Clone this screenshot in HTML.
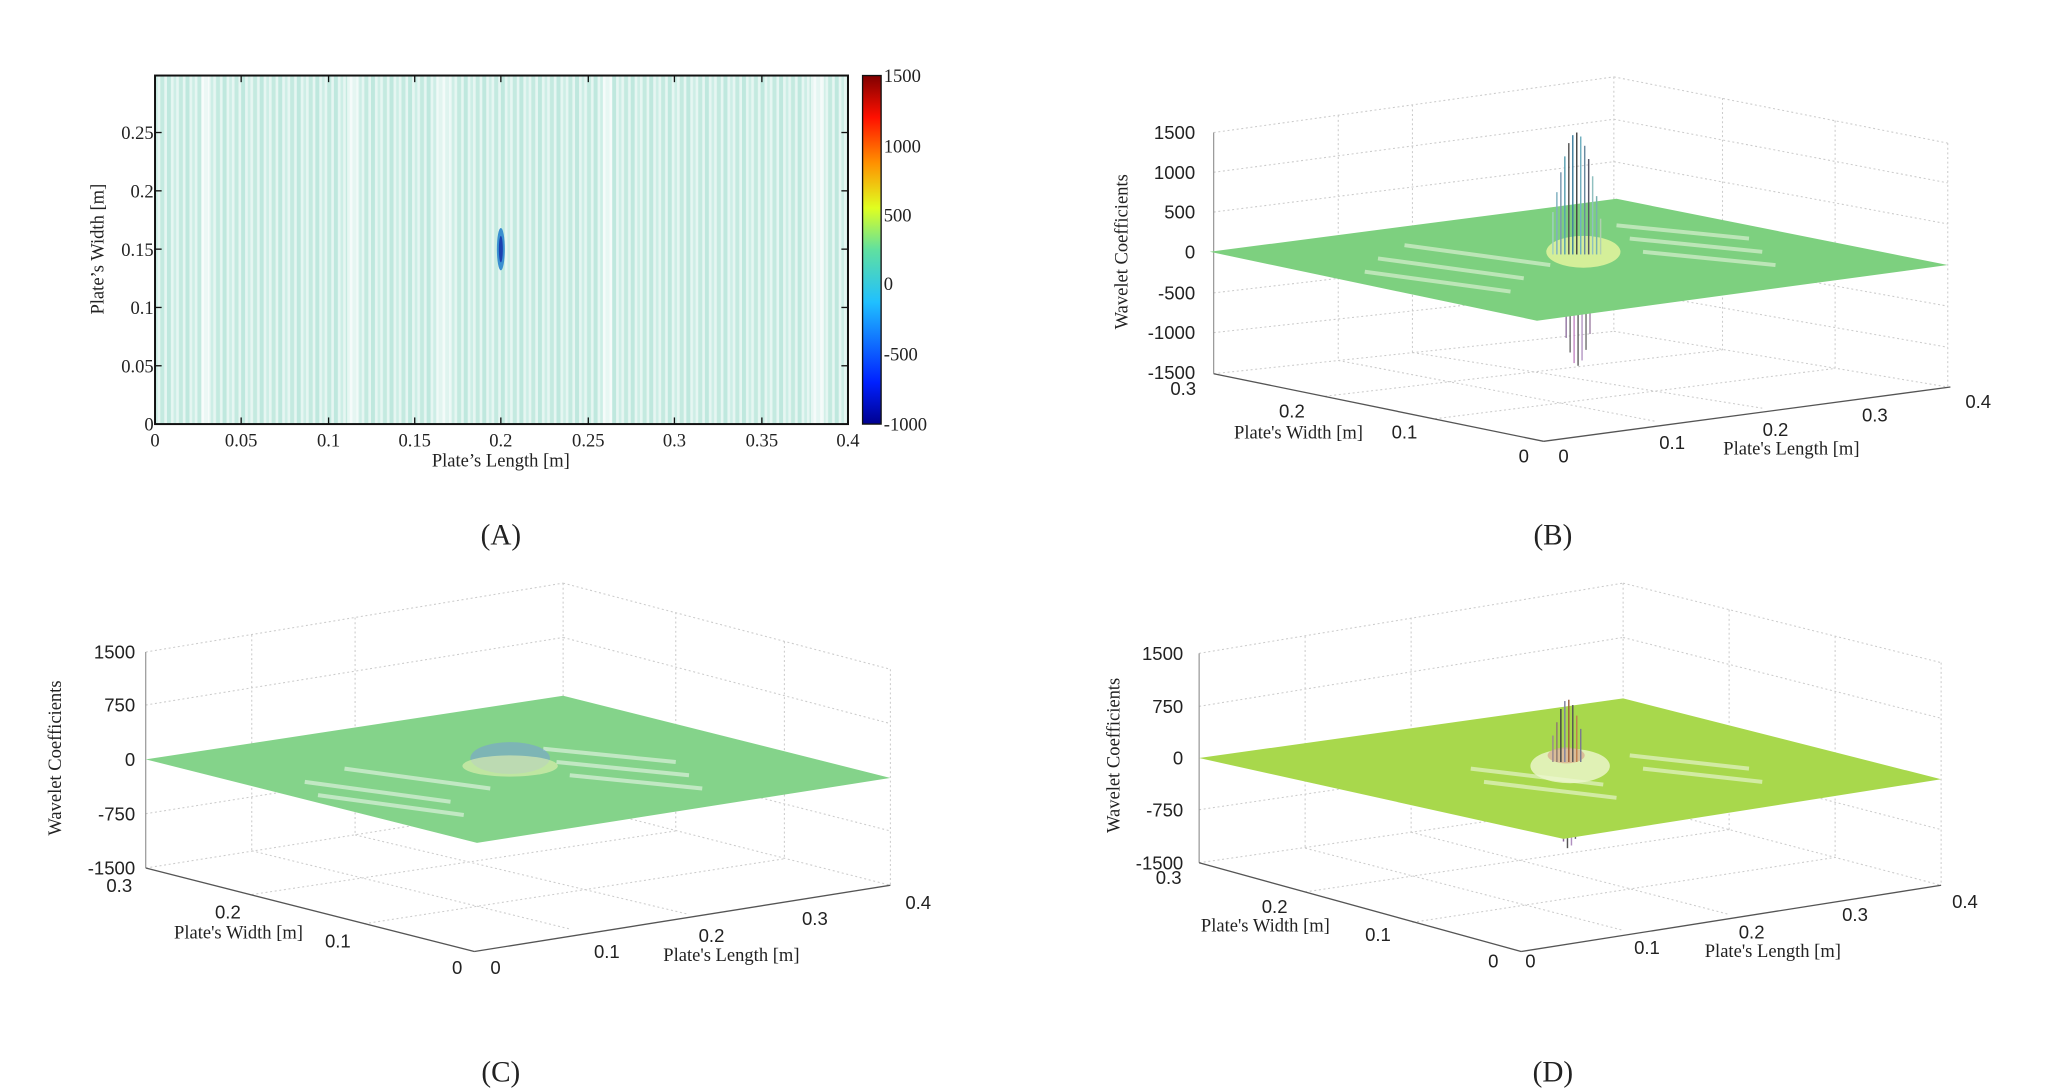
<!DOCTYPE html>
<html><head><meta charset="utf-8"><style>
html,body{margin:0;padding:0;background:#fff}
svg{display:block}
.s{font-family:"Liberation Serif",serif;font-size:14px;fill:#222}
.n{font-family:"Liberation Sans",sans-serif;font-size:14px;fill:#222}
.g{stroke:#ccc;stroke-width:0.8;stroke-dasharray:1.5 2;fill:none}
.cap{font-family:"Liberation Serif",serif;font-size:22px;fill:#222}
</style></head><body>
<svg width="2067" height="1092" viewBox="0 0 1560 824" preserveAspectRatio="none" xmlns="http://www.w3.org/2000/svg">
<defs>
<pattern id="st" width="14" height="8" patternUnits="userSpaceOnUse">
<rect width="14" height="8" fill="#e6f6f2"/>
<rect x="0" width="3" height="8" fill="#bfe8de"/>
<rect x="5" width="2" height="8" fill="#cdeee6"/>
<rect x="9" width="3" height="8" fill="#c4eae0"/>
</pattern>
<linearGradient id="cb" x1="0" y1="1" x2="0" y2="0">
<stop offset="0" stop-color="#00008f"/><stop offset="0.12" stop-color="#0020ff"/>
<stop offset="0.35" stop-color="#20c0ff"/><stop offset="0.5" stop-color="#60e0a0"/>
<stop offset="0.62" stop-color="#e0ff20"/><stop offset="0.75" stop-color="#ff9000"/>
<stop offset="0.88" stop-color="#ff1000"/><stop offset="1" stop-color="#800000"/>
</linearGradient>
</defs>

<!-- Panel A -->
<rect x="117" y="57" width="523" height="263" fill="url(#st)"/>
<rect x="152" y="57" width="6" height="263" fill="#fff" opacity="0.7"/>
<rect x="262" y="57" width="8" height="263" fill="#fff" opacity="0.6"/>
<rect x="330" y="57" width="10" height="263" fill="#fff" opacity="0.5"/>
<rect x="455" y="57" width="7" height="263" fill="#fff" opacity="0.6"/>
<rect x="612" y="57" width="10" height="263" fill="#fff" opacity="0.6"/>
<ellipse cx="378" cy="188" rx="3" ry="16" fill="#3a8fd0"/>
<ellipse cx="378" cy="188" rx="1.5" ry="10" fill="#1a40b0"/>
<rect x="117" y="57" width="523" height="263" fill="none" stroke="#111" stroke-width="1.5"/>
<g stroke="#111" stroke-width="1">
<line x1="182" y1="320" x2="182" y2="315"/><line x1="248" y1="320" x2="248" y2="315"/><line x1="313" y1="320" x2="313" y2="315"/><line x1="378" y1="320" x2="378" y2="315"/><line x1="444" y1="320" x2="444" y2="315"/><line x1="509" y1="320" x2="509" y2="315"/><line x1="575" y1="320" x2="575" y2="315"/>
<line x1="182" y1="57" x2="182" y2="62"/><line x1="248" y1="57" x2="248" y2="62"/><line x1="313" y1="57" x2="313" y2="62"/><line x1="378" y1="57" x2="378" y2="62"/><line x1="444" y1="57" x2="444" y2="62"/><line x1="509" y1="57" x2="509" y2="62"/><line x1="575" y1="57" x2="575" y2="62"/>
<line x1="117" y1="100" x2="122" y2="100"/><line x1="117" y1="144" x2="122" y2="144"/><line x1="117" y1="188" x2="122" y2="188"/><line x1="117" y1="232" x2="122" y2="232"/><line x1="117" y1="276" x2="122" y2="276"/>
<line x1="640" y1="100" x2="635" y2="100"/><line x1="640" y1="144" x2="635" y2="144"/><line x1="640" y1="188" x2="635" y2="188"/><line x1="640" y1="232" x2="635" y2="232"/><line x1="640" y1="276" x2="635" y2="276"/>
</g>
<g class="s" text-anchor="middle">
<text x="117" y="337">0</text><text x="182" y="337">0.05</text><text x="248" y="337">0.1</text><text x="313" y="337">0.15</text><text x="378" y="337">0.2</text><text x="444" y="337">0.25</text><text x="509" y="337">0.3</text><text x="575" y="337">0.35</text><text x="640" y="337">0.4</text>
<text x="378" y="352">Plate’s Length [m]</text>
</g>
<g class="s" text-anchor="end">
<text x="116" y="105">0.25</text><text x="116" y="149">0.2</text><text x="116" y="193">0.15</text><text x="116" y="237">0.1</text><text x="116" y="281">0.05</text><text x="116" y="325">0</text>
</g>
<text class="s" transform="translate(78,188) rotate(-90)" text-anchor="middle">Plate’s Width [m]</text>
<rect x="651" y="57" width="14" height="263" fill="url(#cb)" stroke="#111" stroke-width="1"/>
<g class="s">
<text x="667" y="62">1500</text><text x="667" y="115">1000</text><text x="667" y="167">500</text><text x="667" y="219">0</text><text x="667" y="272">-500</text><text x="667" y="325">-1000</text>
</g>
<text class="cap" x="378" y="411" text-anchor="middle">(A)</text>

<!-- Panel B -->
<g class="g">
<line x1="916" y1="100" x2="1218" y2="58"/><line x1="1218" y1="58" x2="1470" y2="108"/>
<line x1="916" y1="282" x2="1218" y2="250"/><line x1="1218" y1="250" x2="1470" y2="292"/>
<line x1="1218" y1="58" x2="1218" y2="250"/><line x1="1470" y1="108" x2="1470" y2="292"/>
<line x1="916" y1="130" x2="1218" y2="90"/><line x1="916" y1="160" x2="1218" y2="122"/><line x1="916" y1="221" x2="1218" y2="186"/><line x1="916" y1="251" x2="1218" y2="218"/>
<line x1="1218" y1="90" x2="1470" y2="138"/><line x1="1218" y1="122" x2="1470" y2="169"/><line x1="1218" y1="186" x2="1470" y2="231"/><line x1="1218" y1="218" x2="1470" y2="262"/>
<line x1="1066" y1="79" x2="1066" y2="266"/><line x1="1010" y1="87" x2="1010" y2="272"/><line x1="1300" y1="74" x2="1300" y2="264"/><line x1="1385" y1="91" x2="1385" y2="278"/>
<line x1="1000" y1="299" x2="1300" y2="264"/><line x1="1083" y1="316" x2="1385" y2="278"/><line x1="1010" y1="272" x2="1250" y2="318"/><line x1="1066" y1="266" x2="1330" y2="308"/>
</g>
<line x1="916" y1="100" x2="916" y2="282" stroke="#888" stroke-width="0.8"/>
<line x1="916" y1="282" x2="1165" y2="333" stroke="#555" stroke-width="1"/>
<line x1="1165" y1="333" x2="1472" y2="292" stroke="#555" stroke-width="1"/>
<g stroke-width="1">
<line x1="1182" y1="235" x2="1182" y2="255" stroke="#8a6a9a"/><line x1="1185" y1="235" x2="1185" y2="266" stroke="#666"/><line x1="1188" y1="235" x2="1188" y2="274" stroke="#c080c0"/><line x1="1191" y1="235" x2="1191" y2="276" stroke="#555"/><line x1="1194" y1="235" x2="1194" y2="272" stroke="#b090c0"/><line x1="1197" y1="235" x2="1197" y2="264" stroke="#666"/><line x1="1200" y1="235" x2="1200" y2="252" stroke="#9a7aa0"/>
</g>
<polygon points="913,190 1220,150 1470,200 1160,242" fill="#7dd07f"/>
<g stroke="#d8f0d0" stroke-width="3" opacity="0.7">
<line x1="1040" y1="195" x2="1150" y2="210"/><line x1="1030" y1="205" x2="1140" y2="220"/><line x1="1060" y1="185" x2="1170" y2="200"/><line x1="1230" y1="180" x2="1330" y2="190"/><line x1="1240" y1="190" x2="1340" y2="200"/><line x1="1220" y1="170" x2="1320" y2="180"/>
</g>
<ellipse cx="1195" cy="190" rx="28" ry="12" fill="#eaf6a0" opacity="0.8"/>
<g stroke-width="1.1">
<line x1="1172" y1="160" x2="1172" y2="192" stroke="#a0d0c0"/><line x1="1175" y1="145" x2="1175" y2="192" stroke="#80b0c0"/><line x1="1178" y1="130" x2="1178" y2="192" stroke="#7a9ab0"/><line x1="1181" y1="118" x2="1181" y2="192" stroke="#5aa0b0"/><line x1="1184" y1="108" x2="1184" y2="192" stroke="#555"/><line x1="1187" y1="102" x2="1187" y2="192" stroke="#4080a0"/><line x1="1190" y1="100" x2="1190" y2="192" stroke="#444"/><line x1="1193" y1="103" x2="1193" y2="192" stroke="#70b0c0"/><line x1="1196" y1="110" x2="1196" y2="192" stroke="#6a8aa0"/><line x1="1199" y1="120" x2="1199" y2="192" stroke="#556"/><line x1="1202" y1="133" x2="1202" y2="192" stroke="#90c0c0"/><line x1="1205" y1="148" x2="1205" y2="192" stroke="#7ab0b0"/><line x1="1208" y1="165" x2="1208" y2="192" stroke="#b0d0b0"/>
</g>
<g class="n" text-anchor="end">
<text x="902" y="105">1500</text><text x="902" y="135">1000</text><text x="902" y="165">500</text><text x="902" y="195">0</text><text x="902" y="226">-500</text><text x="902" y="256">-1000</text><text x="902" y="286">-1500</text>
</g>
<g class="n" text-anchor="middle">
<text x="893" y="298">0.3</text><text x="975" y="315">0.2</text><text x="1060" y="331">0.1</text><text x="1150" y="349">0</text><text x="1180" y="349">0</text><text x="1262" y="339">0.1</text><text x="1340" y="329">0.2</text><text x="1415" y="318">0.3</text><text x="1493" y="308">0.4</text>
</g>
<text class="s" x="980" y="331" text-anchor="middle">Plate's Width [m]</text>
<text class="s" x="1352" y="343" text-anchor="middle">Plate's Length [m]</text>
<text class="s" transform="translate(851,190) rotate(-90)" text-anchor="middle">Wavelet Coefficients</text>
<text class="cap" x="1172" y="411" text-anchor="middle">(B)</text>

<!-- Panel C -->
<g class="g">
<line x1="110" y1="492" x2="425" y2="440"/><line x1="425" y1="440" x2="672" y2="505"/>
<line x1="110" y1="655" x2="425" y2="605"/><line x1="425" y1="605" x2="672" y2="668"/>
<line x1="425" y1="440" x2="425" y2="605"/><line x1="672" y1="505" x2="672" y2="668"/>
<line x1="110" y1="532" x2="425" y2="481"/><line x1="110" y1="614" x2="425" y2="564"/>
<line x1="425" y1="481" x2="672" y2="546"/><line x1="425" y1="564" x2="672" y2="627"/>
<line x1="268" y1="466" x2="268" y2="630"/><line x1="190" y1="479" x2="190" y2="642"/><line x1="510" y1="462" x2="510" y2="627"/><line x1="592" y1="484" x2="592" y2="648"/>
<line x1="190" y1="675" x2="510" y2="627"/><line x1="275" y1="697" x2="592" y2="648"/><line x1="190" y1="642" x2="430" y2="701"/><line x1="268" y1="630" x2="520" y2="690"/>
</g>
<line x1="110" y1="492" x2="110" y2="655" stroke="#888" stroke-width="0.8"/>
<line x1="110" y1="655" x2="358" y2="718" stroke="#555" stroke-width="1"/>
<line x1="358" y1="718" x2="672" y2="668" stroke="#555" stroke-width="1"/>
<polygon points="110,573 425,525 672,587 360,636" fill="#84d38a"/>
<g stroke="#dcf2dc" stroke-width="3" opacity="0.7">
<line x1="230" y1="590" x2="340" y2="605"/><line x1="240" y1="600" x2="350" y2="615"/><line x1="260" y1="580" x2="370" y2="595"/><line x1="420" y1="575" x2="520" y2="585"/><line x1="430" y1="585" x2="530" y2="595"/><line x1="410" y1="565" x2="510" y2="575"/>
</g>
<ellipse cx="385" cy="572" rx="30" ry="12" fill="#7aa8c8" opacity="0.7"/>
<ellipse cx="385" cy="578" rx="36" ry="8" fill="#e6f4b0" opacity="0.6"/>
<g class="n" text-anchor="end">
<text x="102" y="497">1500</text><text x="102" y="537">750</text><text x="102" y="578">0</text><text x="102" y="619">-750</text><text x="102" y="660">-1500</text>
</g>
<g class="n" text-anchor="middle">
<text x="90" y="673">0.3</text><text x="172" y="693">0.2</text><text x="255" y="715">0.1</text><text x="345" y="735">0</text><text x="374" y="735">0</text><text x="458" y="723">0.1</text><text x="537" y="711">0.2</text><text x="615" y="698">0.3</text><text x="693" y="686">0.4</text>
</g>
<text class="s" x="180" y="708" text-anchor="middle">Plate's Width [m]</text>
<text class="s" x="552" y="725" text-anchor="middle">Plate's Length [m]</text>
<text class="s" transform="translate(46,572) rotate(-90)" text-anchor="middle">Wavelet Coefficients</text>
<text class="cap" x="378" y="816" text-anchor="middle">(C)</text>

<!-- Panel D -->
<g class="g">
<line x1="905" y1="493" x2="1225" y2="440"/><line x1="1225" y1="440" x2="1465" y2="500"/>
<line x1="905" y1="651" x2="1225" y2="605"/><line x1="1225" y1="605" x2="1465" y2="668"/>
<line x1="1225" y1="440" x2="1225" y2="605"/><line x1="1465" y1="500" x2="1465" y2="668"/>
<line x1="905" y1="533" x2="1225" y2="481"/><line x1="905" y1="611" x2="1225" y2="564"/>
<line x1="1225" y1="481" x2="1465" y2="542"/><line x1="1225" y1="564" x2="1465" y2="626"/>
<line x1="1065" y1="466" x2="1065" y2="628"/><line x1="985" y1="480" x2="985" y2="640"/><line x1="1305" y1="460" x2="1305" y2="626"/><line x1="1385" y1="480" x2="1385" y2="647"/>
<line x1="985" y1="673" x2="1305" y2="626"/><line x1="1066" y1="696" x2="1385" y2="647"/><line x1="985" y1="640" x2="1225" y2="702"/><line x1="1065" y1="628" x2="1305" y2="690"/>
</g>
<line x1="905" y1="493" x2="905" y2="651" stroke="#888" stroke-width="0.8"/>
<line x1="905" y1="651" x2="1148" y2="718" stroke="#555" stroke-width="1"/>
<line x1="1148" y1="718" x2="1465" y2="668" stroke="#555" stroke-width="1"/>
<g stroke-width="1.1"><line x1="1180" y1="620" x2="1180" y2="635" stroke="#8a6a9a"/><line x1="1183" y1="620" x2="1183" y2="640" stroke="#555"/><line x1="1186" y1="620" x2="1186" y2="638" stroke="#b090c0"/><line x1="1189" y1="620" x2="1189" y2="633" stroke="#666"/></g>
<polygon points="905,572 1225,527 1465,588 1180,633" fill="#a8d84c"/>
<g stroke="#e4f4c8" stroke-width="3" opacity="0.7">
<line x1="1110" y1="580" x2="1210" y2="592"/><line x1="1120" y1="590" x2="1220" y2="602"/><line x1="1230" y1="570" x2="1320" y2="580"/><line x1="1240" y1="580" x2="1330" y2="590"/>
</g>
<ellipse cx="1185" cy="578" rx="30" ry="13" fill="#eef8d0" opacity="0.8"/>
<ellipse cx="1182" cy="570" rx="14" ry="6" fill="#d8b090" opacity="0.8"/>
<g stroke-width="1.1">
<line x1="1172" y1="555" x2="1172" y2="575" stroke="#9a8a90"/><line x1="1175" y1="545" x2="1175" y2="575" stroke="#907a70"/><line x1="1178" y1="535" x2="1178" y2="575" stroke="#444"/><line x1="1181" y1="529" x2="1181" y2="575" stroke="#8080a0"/><line x1="1184" y1="528" x2="1184" y2="575" stroke="#a06040"/><line x1="1187" y1="532" x2="1187" y2="575" stroke="#555"/><line x1="1190" y1="540" x2="1190" y2="575" stroke="#c08050"/><line x1="1193" y1="550" x2="1193" y2="575" stroke="#7a7a90"/>
</g>
<g class="n" text-anchor="end">
<text x="893" y="498">1500</text><text x="893" y="538">750</text><text x="893" y="577">0</text><text x="893" y="616">-750</text><text x="893" y="656">-1500</text>
</g>
<g class="n" text-anchor="middle">
<text x="882" y="667">0.3</text><text x="962" y="689">0.2</text><text x="1040" y="710">0.1</text><text x="1127" y="730">0</text><text x="1155" y="730">0</text><text x="1243" y="720">0.1</text><text x="1322" y="708">0.2</text><text x="1400" y="695">0.3</text><text x="1483" y="685">0.4</text>
</g>
<text class="s" x="955" y="703" text-anchor="middle">Plate's Width [m]</text>
<text class="s" x="1338" y="722" text-anchor="middle">Plate's Length [m]</text>
<text class="s" transform="translate(845,570) rotate(-90)" text-anchor="middle">Wavelet Coefficients</text>
<text class="cap" x="1172" y="816" text-anchor="middle">(D)</text>
</svg>
</body></html>
